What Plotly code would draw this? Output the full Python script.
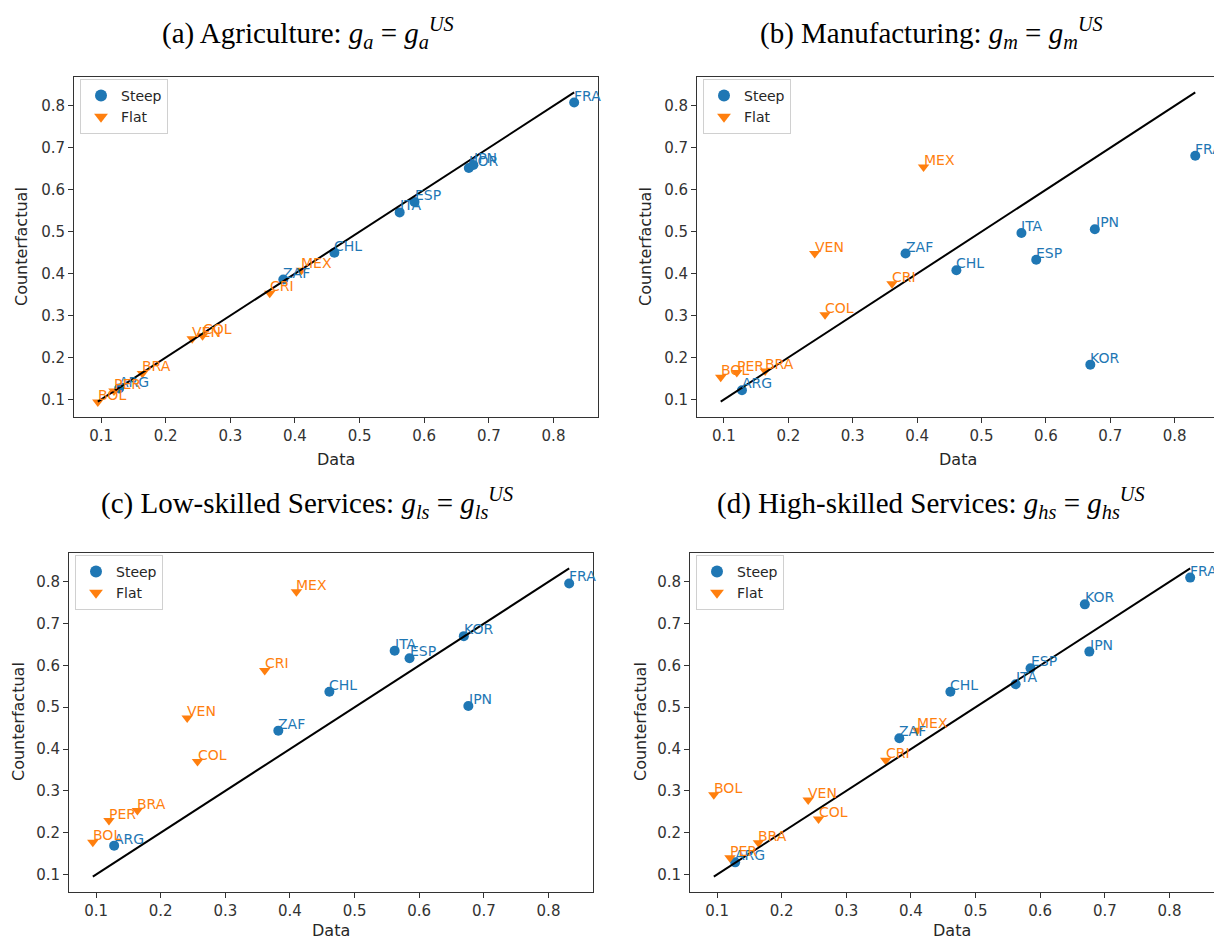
import plotly.graph_objects as go

countries = ["BOL", "PER", "ARG", "BRA", "VEN", "COL", "CRI", "ZAF", "MEX", "CHL", "ITA", "ESP", "KOR", "JPN", "FRA"]
groups = ["Flat", "Flat", "Steep", "Flat", "Flat", "Flat", "Flat", "Steep", "Flat", "Steep", "Steep", "Steep", "Steep", "Steep", "Steep"]
data_x = [0.095, 0.120, 0.128, 0.164, 0.241, 0.257, 0.361, 0.382, 0.410, 0.461, 0.562, 0.585, 0.669, 0.676, 0.832]

cf_agriculture = [0.094, 0.120, 0.126, 0.162, 0.245, 0.252, 0.353, 0.386, 0.408, 0.450, 0.546, 0.571, 0.652, 0.659, 0.808]
cf_manufacturing = [0.153, 0.164, 0.122, 0.168, 0.448, 0.302, 0.376, 0.448, 0.654, 0.408, 0.497, 0.433, 0.183, 0.506, 0.681]
cf_low_services = [0.177, 0.229, 0.169, 0.253, 0.474, 0.370, 0.588, 0.444, 0.776, 0.537, 0.635, 0.617, 0.670, 0.503, 0.796]
cf_high_services = [0.291, 0.140, 0.129, 0.176, 0.278, 0.233, 0.373, 0.426, 0.445, 0.537, 0.555, 0.593, 0.746, 0.633, 0.810]

titles = [
    "(a) Agriculture: <i>g<sub>a</sub></i> = <i>g<sub>a</sub><sup>US</sup></i>",
    "(b) Manufacturing: <i>g<sub>m</sub></i> = <i>g<sub>m</sub><sup>US</sup></i>",
    "(c) Low-skilled Services: <i>g<sub>ls</sub></i> = <i>g<sub>ls</sub><sup>US</sup></i>",
    "(d) High-skilled Services: <i>g<sub>hs</sub></i> = <i>g<sub>hs</sub><sup>US</sup></i>",
]
x_title = "Data"
y_title = "Counterfactual"
panel_values = [cf_agriculture, cf_manufacturing, cf_low_services, cf_high_services]

# page body has an 8px margin: figure sized to fit the 1222x942 window
OFF = 8
W, H = 1222 - OFF, 942 - OFF


def px(xp):
    return (xp - OFF) / W


def py(yp):
    return 1 - (yp - OFF) / H


# pixel boxes in window coordinates (left, right, top, bottom)
boxes = [(74, 598, 77, 417), (697, 1219, 77, 417), (69, 593, 553, 892), (690, 1214, 553, 892)]
title_pos = [(308, 33), (931, 33), (307, 503), (931, 503)]
xtitle_pos = [(336, 459), (958, 459), (331, 930), (952, 930)]
ytitle_pos = [(22, 247), (646, 247), (18, 722), (640, 722)]

BLUE = "#1f77b4"
ORANGE = "#ff7f0e"
tick_vals = [0.1, 0.2, 0.3, 0.4, 0.5, 0.6, 0.7, 0.8]
tick_text = ["0.1", "0.2", "0.3", "0.4", "0.5", "0.6", "0.7", "0.8"]

fig = go.Figure()
layout = dict(
    width=W, height=H, margin=dict(l=0, r=0, t=0, b=0),
    paper_bgcolor="white", plot_bgcolor="white",
    font=dict(family="DejaVu Sans", size=14, color="#262626"),
    annotations=[],
)

lo = min(data_x)
hi = max(data_x)
pad = (hi - lo) * 0.05
rng = [lo - pad, hi + pad]

for i, vals in enumerate(panel_values):
    n = i + 1
    xa = "x" if n == 1 else f"x{n}"
    ya = "y" if n == 1 else f"y{n}"
    lg = "legend" if n == 1 else f"legend{n}"
    for grp, sym, col in [("Steep", "circle", BLUE), ("Flat", "triangle-down", ORANGE)]:
        idx = [k for k, g in enumerate(groups) if g == grp]
        fig.add_trace(go.Scatter(
            x=[data_x[k] for k in idx], y=[vals[k] for k in idx],
            mode="markers", name=grp,
            marker=dict(symbol=sym, size=10, color=col),
            cliponaxis=False, xaxis=xa, yaxis=ya, legend=lg,
        ))
        for k in idx:
            layout["annotations"].append(dict(
                text=countries[k], x=data_x[k], y=vals[k], xref=xa, yref=ya,
                xanchor="left", yanchor="bottom", showarrow=False,
                xshift=-2, yshift=-3,
                font=dict(color=col, size=14, family="DejaVu Sans"),
            ))
    fig.add_trace(go.Scatter(
        x=[lo, hi], y=[lo, hi], mode="lines",
        line=dict(color="black", width=2), showlegend=False,
        xaxis=xa, yaxis=ya,
    ))
    l, r, t, b = boxes[i]
    axkey_x = "xaxis" if n == 1 else f"xaxis{n}"
    axkey_y = "yaxis" if n == 1 else f"yaxis{n}"
    common = dict(range=rng, tickvals=tick_vals, ticktext=tick_text, showgrid=False, zeroline=False,
                  showline=True, mirror=True, linecolor="#333333", linewidth=1,
                  ticks="outside", ticklen=5, tickcolor="#333333",
                  tickfont=dict(size=15, color="#333333"))
    layout[axkey_x] = dict(common, domain=[px(l), min(px(r), 1.0)], anchor=ya)
    layout[axkey_y] = dict(common, domain=[py(b), py(t)], anchor=xa)
    layout[lg] = dict(x=px(l + 6), y=py(t + 2), xanchor="left", yanchor="top",
                      bgcolor="rgba(255,255,255,0.8)", bordercolor="#d0d0d0", borderwidth=1,
                      font=dict(size=14, color="#262626"), itemsizing="constant",
                      tracegroupgap=0)
    tx, ty = title_pos[i]
    layout["annotations"].append(dict(
        text=titles[i], x=px(tx), y=py(ty), xref="paper", yref="paper",
        xanchor="center", yanchor="middle", showarrow=False,
        font=dict(family="Liberation Serif", size=29, color="black"),
    ))
    xx, xy = xtitle_pos[i]
    layout["annotations"].append(dict(
        text=x_title, x=px(xx), y=py(xy), xref="paper", yref="paper",
        xanchor="center", yanchor="middle", showarrow=False,
        font=dict(size=16, color="#262626"),
    ))
    yx, yy = ytitle_pos[i]
    layout["annotations"].append(dict(
        text=y_title, x=px(yx), y=py(yy), xref="paper", yref="paper",
        xanchor="center", yanchor="middle", showarrow=False, textangle=-90,
        font=dict(size=16, color="#262626"),
    ))

fig.update_layout(**layout)
fig.write_html("out.html")
